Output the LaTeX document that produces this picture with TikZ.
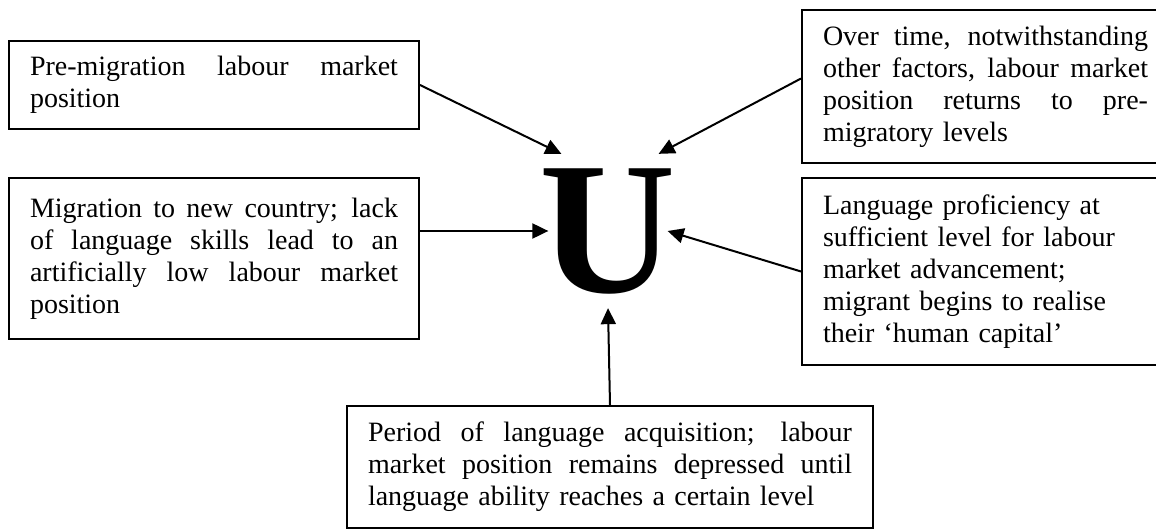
\documentclass[tikz,border=0pt]{standalone}
\usepackage{fontspec}
\setmainfont{Liberation Serif}
\usetikzlibrary{arrows.meta}
% a justified line: spaces stretch to the full width
\newcommand{\jline}[1]{\makebox[\hsize][s]{\spaceskip=0pt\xspaceskip=0pt #1}\\}
\tikzset{
  textbox/.style={draw, line width=1pt, anchor=north west, align=left,
    inner xsep=10.5pt, inner ysep=0pt, font=\fontsize{14}{16}\selectfont},
  arr/.style={-{Triangle[length=8pt,width=7.5pt]}, line width=1pt},
  bigU/.style={font=\fontsize{94.5}{100}\selectfont\bfseries,
    inner xsep=-4.5pt, inner ysep=7pt}
}

\begin{document}
\begin{tikzpicture}[x=0.5pt,y=-0.5pt]
  \useasboundingbox (0,0) rectangle (1156,529);
  % the U curve in the middle
  \node[bigU] (u) at (608,231) {U};
  % left side
  \node[textbox, text width=184pt, minimum height=44pt] (pre) at (8,40)
    {\jline{Pre-migration labour market}
     position};
  \node[textbox, text width=184pt, minimum height=80.5pt] (mig) at (8,177)
    {\jline{Migration to new country; lack}
     \jline{of language skills lead to an}
     \jline{artificially low labour market}
     position};
  % right side
  \node[textbox, text width=162.5pt, minimum height=76.5pt] (over) at (801,9)
    {\jline{Over time, notwithstanding}
     \jline{other factors, labour market}
     \jline{position returns to pre-}
     migratory levels};
  \node[textbox, text width=162.5pt, minimum height=93.5pt] (prof) at (801,177)
    {Language proficiency at\\
     sufficient level for labour\\
     market advancement;\\
     migrant begins to realise\\
     their `human capital'};
  % bottom
  \node[textbox, text width=242pt, minimum height=61pt] (period) at (346,405)
    {\jline{Period of language acquisition; labour}
     \jline{market position remains depressed until}
     language ability reaches a certain level};

  \draw[arr] (pre.east) -- ([xshift=6.5pt]u.north west);
  \draw[arr] (mig.east |- u.west) -- (u.west);
  \draw[arr] ([yshift=4pt]over.west) -- ([xshift=-4.5pt]u.north east);
  \draw[arr] (prof.west) -- (u.east);
  \draw[arr] (period.north) -- (u.south);
\end{tikzpicture}
\end{document}
